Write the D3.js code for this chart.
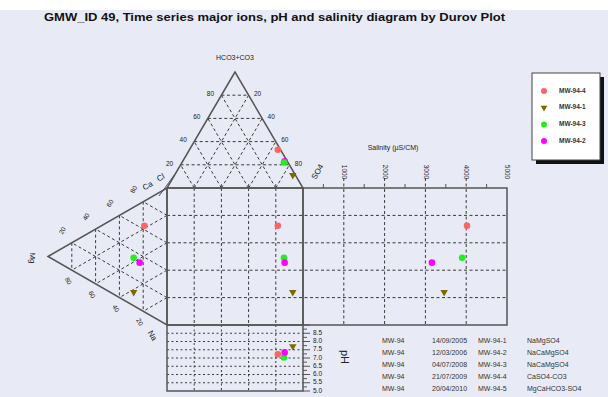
<!DOCTYPE html>
<html><head><meta charset="utf-8">
<script src="https://cdn.jsdelivr.net/npm/d3@7"></script>
<style>body{margin:0;background:#fff}svg{display:block}text{font-family:"Liberation Sans",Arial,sans-serif}</style>
</head><body>
<script>
// ---- data ----
const samples = ["MW-94-4","MW-94-1","MW-94-3","MW-94-2"];
const colors = ["#ff6464","#7a6a00","#22ee22","#ff00ff"];
const shapes = ["circle","triangle","circle","circle"];
const hco3 = [33, 11, 22, 23];
const cl   = [2, 2, 3, 2];
const so4  = [65, 87, 75, 75];
const mg   = [19, 28, 28, 23];
const ca   = [63, 10, 35, 34];
const na   = [18, 62, 37, 43];
const salinity = [4020, 3460, 3900, 3160];
const ph = [7.22, 7.71, 7.03, 7.34];
const salTicks = [1000, 2000, 3000, 4000, 5000];
const phTicks = [5.0, 5.5, 6.0, 6.5, 7.0, 7.5, 8.0, 8.5];
const pctTicks = [20, 40, 60, 80];
const tableRows = [
  ["MW-94","14/09/2005","MW-94-1","NaMgSO4"],
  ["MW-94","12/03/2006","MW-94-2","NaCaMgSO4"],
  ["MW-94","04/07/2008","MW-94-3","NaCaMgSO4"],
  ["MW-94","21/07/2009","MW-94-4","CaSO4-CO3"],
  ["MW-94","20/04/2010","MW-94-5","MgCaHCO3-SO4"]
];
const title = "GMW_ID 49, Time series major ions, pH and salinity diagram by Durov Plot";

// ---- layout ----
const W = 608, H = 397;
const X0 = 167, X1 = 303, Y0 = 188, Y1 = 325;
const svg = d3.select("body").append("svg").attr("width", W).attr("height", H);
svg.append("rect").attr("x",0).attr("y",10).attr("width",W).attr("height",H-10).attr("fill","#e8ebf6");

// scales
const anX = d3.scaleLinear().domain([0,100]).range([X1, X0]);   // Cl + HCO3/2
const anY = d3.scaleLinear().domain([0,100]).range([Y0, 72]);    // HCO3
const catX = d3.scaleLinear().domain([0,100]).range([X0, 48]);   // Mg
const catY = d3.scaleLinear().domain([0,100]).range([Y1, Y0]);   // Ca + Mg/2
const salX = d3.scaleLinear().domain([0,5000]).range([X1, 507]);
const phY = d3.scaleLinear().domain([5,9]).range([391, Y1]);
const sqX = d3.scaleLinear().domain([0,100]).range([X0, X1]);
const sqY = d3.scaleLinear().domain([0,100]).range([Y0, Y1]);

const anP = (h,c) => [anX(c + h/2), anY(h)];
const catP = (m,c) => [catX(m), catY(c + m/2)];

const dash = {stroke:"#3a3a3a","stroke-width":1,"stroke-dasharray":"3,2.5",fill:"none"};
function line(g, a, b, st){ const l=g.append("line").attr("x1",a[0]).attr("y1",a[1]).attr("x2",b[0]).attr("y2",b[1]); for(const k in st) l.attr(k, st[k]); return l; }
const grid = svg.append("g"), frame = svg.append("g"), labels = svg.append("g"), marks = svg.append("g");

// top triangle grid (anion: HCO3 apex, Cl left, SO4 right)
pctTicks.forEach(f=>{
  line(grid, anP(f,100-f), anP(f,0), dash);
  line(grid, anP(0,f), anP(100-f,f), dash);
  line(grid, anP(0,100-f), anP(100-f,0), dash);
});
// left triangle grid (cation: Mg apex, Ca top-right, Na bottom-right)
pctTicks.forEach(f=>{
  line(grid, catP(f,100-f), catP(f,0), dash);
  line(grid, catP(0,f), catP(100-f,f), dash);
  line(grid, catP(0,100-f), catP(100-f,0), dash);
});
// square grid
pctTicks.forEach(f=>{
  line(grid, [sqX(f),Y0],[sqX(f),Y1], dash);
  line(grid, [X0,sqY(f)],[salX(5000),sqY(f)], dash);
  line(grid, [sqX(f),Y1],[sqX(f),phY(5)], {...dash,"stroke-dasharray":"2,2.5"});
});
salTicks.slice(0,4).forEach(v=> line(grid,[salX(v),Y0-10],[salX(v),Y1],dash));
phTicks.slice(1).forEach(v=> line(grid,[X0,phY(v)],[X1,phY(v)],{...dash,"stroke-dasharray":"2,2.5"}));

// frames
const fr = {stroke:"#555","stroke-width":1.5,fill:"none"};
const applyFr = s => { for(const k in fr) s.attr(k, fr[k]); return s; };
applyFr(frame.append("path").attr("d", d3.line()([anP(100,0), anP(0,100), anP(0,0)])+"Z"));
applyFr(frame.append("path").attr("d", d3.line()([catP(100,0), catP(0,100), catP(0,0)])+"Z"));
applyFr(frame.append("rect").attr("x",X0).attr("y",Y0).attr("width",X1-X0).attr("height",Y1-Y0));
applyFr(frame.append("rect").attr("x",X1).attr("y",Y0).attr("width",salX(5000)-X1).attr("height",Y1-Y0));
applyFr(frame.append("rect").attr("x",X0).attr("y",Y1).attr("width",X1-X0).attr("height",phY(5)-Y1));
line(frame,[X0-8,Y0+8],[X0+8,Y0-14],{stroke:"#555","stroke-width":1});
// ticks
d3.range(500,5000,1000).forEach(v=> line(frame,[salX(v),Y0],[salX(v),Y0-4],{stroke:"#555","stroke-width":1}));
pctTicks.forEach(f=> line(frame,[sqX(f),Y0],[sqX(f),Y0-4],{stroke:"#555","stroke-width":1}));
d3.range(5,9.01,0.25).forEach(v=> line(frame,[X1,phY(v)],[X1+ (Math.abs(v*2-Math.round(v*2))<1e-6?7:4),phY(v)],{stroke:"#555","stroke-width":1}));

// labels
const lab = (x,y,t,o={}) => labels.append("text").attr("x",x).attr("y",y).attr("text-anchor",o.anchor||"middle")
  .attr("font-size",o.size||7).attr("fill",o.fill||"#222").attr("font-weight",o.bold?"bold":null)
  .attr("transform", o.rot!==undefined?`rotate(${o.rot},${x},${y})`:null).attr("dominant-baseline","middle").text(t);

labels.append("text").attr("x",44).attr("y",21).attr("font-size",10.5).attr("font-weight","bold").attr("fill","#111")
  .attr("textLength",461).attr("lengthAdjust","spacingAndGlyphs").text(title);
lab(235,58,"HCO3+CO3",{size:7});
pctTicks.forEach(f=>{
  const pl = anP(100-f,f); lab(pl[0]-11,pl[1]-1,String(100-f),{size:6.5});
  const pr = anP(100-f,0); lab(pr[0]+9,pr[1]-1,String(f),{size:6.5});
});
lab(318,172,"SO4",{size:8,rot:-60});
lab(161,178,"Cl",{size:8,rot:-30});
lab(148,186,"Ca",{size:8,rot:-30});
pctTicks.forEach(f=>{
  const pu = catP(100-f,f); lab(pu[0]-9,pu[1]-12,String(f),{size:6.5,rot:-60});
  const pb = catP(100-f,0); lab(pb[0]-4,pb[1]+11,String(100-f),{size:6.5,rot:60});
});
lab(32,258,"Mg",{size:8,rot:90});
lab(152,336,"Na",{size:8,rot:60});
salTicks.forEach(v=> lab(salX(v),172,String(v),{size:6.5,rot:90}));
lab(393,148,"Salinity (µS/CM)",{size:7});
phTicks.forEach(v=> lab(313,phY(v),v.toFixed(1),{size:6.5,anchor:"start"}));
lab(344,357,"pH",{size:11,rot:90});

// table
const cols = [382,432,478,527];
tableRows.forEach((r,i)=> r.forEach((t,j)=> lab(cols[j],341+i*12,t,{size:7,anchor:"start",fill:"#333"})));

// legend
const lg = svg.append("g");
lg.append("rect").attr("x",536).attr("y",77).attr("width",68).attr("height",87).attr("fill","#111");
lg.append("rect").attr("x",532).attr("y",73).attr("width",68).attr("height",87).attr("fill","#fff").attr("stroke","#444");
const sym = (g,s,x,y,c,r) => s==="triangle"
  ? g.append("path").attr("d",d3.symbol(d3.symbolTriangle,r*r*2.2)()).attr("transform",`translate(${x},${y}) rotate(180)`).attr("fill",c)
  : g.append("circle").attr("cx",x).attr("cy",y).attr("r",r).attr("fill",c);
samples.forEach((s,i)=>{
  const y = 91 + i*16.7;
  sym(lg,shapes[i],544,y,colors[i],3);
  lg.append("text").attr("x",559).attr("y",y).attr("dominant-baseline","middle").attr("font-size",6.5).attr("font-weight","bold").attr("fill","#333").text(s);
});

// data marks
const idx = samples.map((s,i)=>i);
// anion triangle: drawn in reverse order
idx.slice().reverse().forEach(i=>{
  const a = anP(hco3[i], cl[i]);
  sym(marks, shapes[i], a[0], a[1], colors[i], 3.3);
});
idx.forEach(i=>{
  const a = anP(hco3[i], cl[i]);
  const c = catP(mg[i], ca[i]);
  const pts = [c, [a[0], c[1]], [salX(salinity[i]), c[1]], [a[0], phY(ph[i])]];
  pts.forEach(p=> sym(marks, shapes[i], p[0], p[1], colors[i], 3.3));
});
</script>
</body></html>
